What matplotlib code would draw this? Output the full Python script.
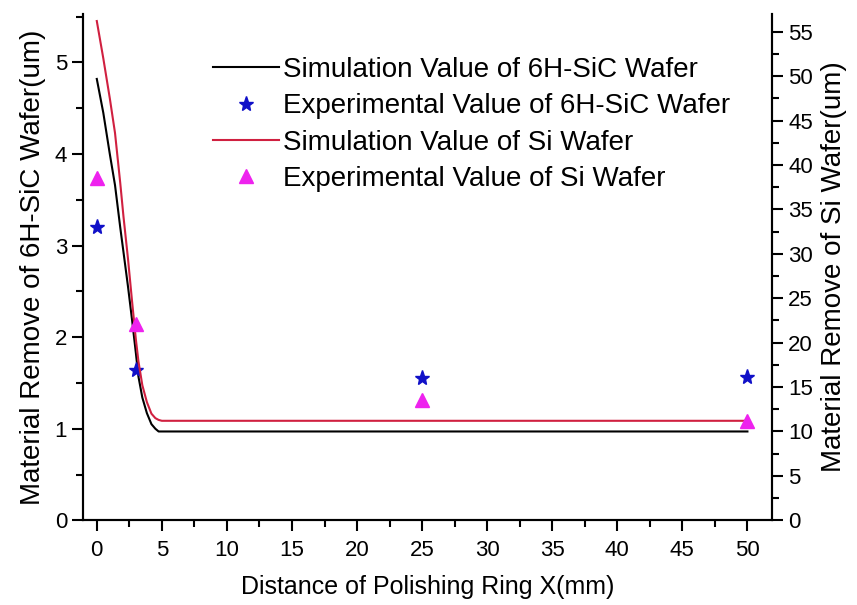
import matplotlib
matplotlib.use('Agg')
import matplotlib.pyplot as plt
from matplotlib.ticker import MultipleLocator

plt.rcParams['font.family'] = ['Liberation Sans', 'DejaVu Sans']

# simulation curves
sim_x = [0, 0.5, 1.0, 1.4, 1.8, 2.05, 2.4, 2.7, 3.0, 3.2, 3.5, 3.85, 4.2, 4.5, 4.75, 5.0, 10, 20, 30, 40, 50]
sic_sim = [4.82, 4.45, 4.0, 3.66, 3.2, 2.93, 2.55, 2.2, 1.83, 1.57, 1.34, 1.17, 1.05, 1.0, 0.97, 0.97, 0.97, 0.97, 0.97, 0.97, 0.97]
si_sim = [56.2, 52.0, 47.5, 43.6, 38.0, 34.2, 29.4, 24.8, 20.4, 17.9, 15.2, 13.3, 12.0, 11.5, 11.3, 11.2, 11.2, 11.2, 11.2, 11.2, 11.2]

# experimental points
exp_x = [0, 3, 25, 50]
sic_exp = [3.2, 1.64, 1.55, 1.57]
si_exp = [38.5, 22.1, 13.5, 11.2]

fig = plt.figure(figsize=(8.57, 6.05), dpi=100)
ax = fig.add_axes([0.097, 0.14, 0.804, 0.837])
ax2 = ax.twinx()

l1, = ax.plot(sim_x, sic_sim, color='black', lw=1.5, label='Simulation Value of 6H-SiC Wafer')
l2, = ax.plot(exp_x, sic_exp, ls='none', marker='*', color='#1010c8', ms=11, label='Experimental Value of 6H-SiC Wafer')
l3, = ax2.plot(sim_x, si_sim, color='#d02040', lw=1.5, label='Simulation Value of Si Wafer')
l4, = ax2.plot(exp_x, si_exp, ls='none', marker='^', color='#ee22ee', ms=10, label='Experimental Value of Si Wafer')

ax.set_xlim(-1.05, 51.9)
ax.set_ylim(0, 5.53)
ax2.set_ylim(0, 57)

ax.xaxis.set_major_locator(MultipleLocator(5))
ax.xaxis.set_minor_locator(MultipleLocator(2.5))
ax.yaxis.set_major_locator(MultipleLocator(1))
ax.yaxis.set_minor_locator(MultipleLocator(0.5))
ax2.yaxis.set_major_locator(MultipleLocator(5))
ax2.yaxis.set_minor_locator(MultipleLocator(2.5))

for a in (ax, ax2):
    a.spines['top'].set_visible(False)
    for s in a.spines.values():
        s.set_linewidth(1.5)
    a.tick_params(which='major', direction='out', length=8, width=1.5, labelsize=16)
    a.tick_params(which='minor', direction='out', length=5, width=1.5)
ax.tick_params(axis='x', pad=6)

ax.set_xlabel('Distance of Polishing Ring X(mm)', fontsize=18, labelpad=10)
ax.set_ylabel('Material Remove of 6H-SiC Wafer(um)', fontsize=20, labelpad=6)
ax2.set_ylabel('Material Remove of Si Wafer(um)', fontsize=20, labelpad=6)

ax.legend(handles=[l1, l2, l3, l4], loc='upper left', bbox_to_anchor=(0.189, 0.915),
          frameon=False, fontsize=20, handlelength=2.35, handletextpad=0.15,
          labelspacing=0.37, borderaxespad=0, borderpad=0)

fig.savefig('out.png', dpi=100)
